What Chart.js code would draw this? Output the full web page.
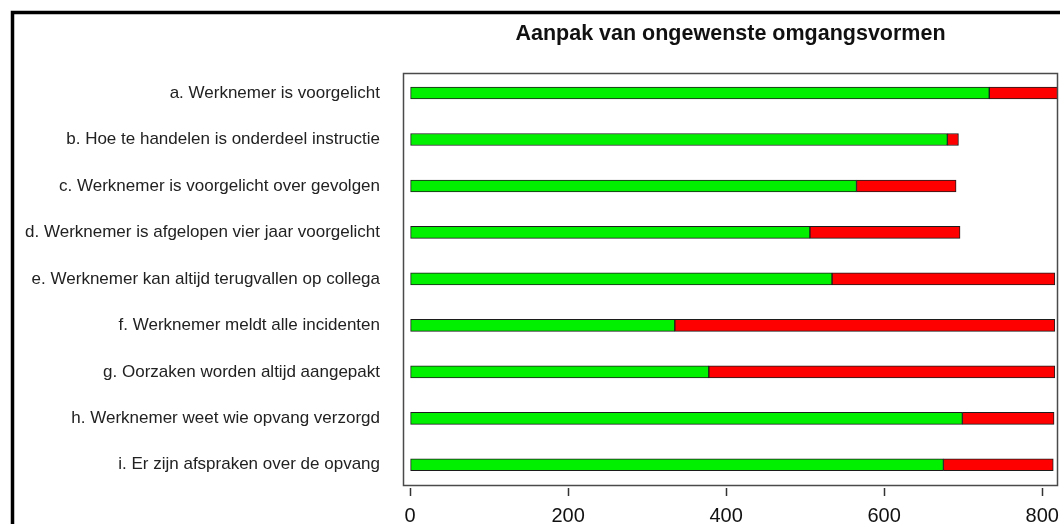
<!DOCTYPE html>
<html>
<head>
<meta charset="utf-8">
<script src="https://cdn.jsdelivr.net/npm/chart.js@4"></script>
<style>
  html, body { margin: 0; padding: 0; background: #ffffff; }
  #wrap { width: 1060px; height: 524px; position: relative; overflow: hidden; }
</style>
</head>
<body>
<div id="wrap"><canvas id="c" width="1060" height="524"></canvas></div>
<script>
const titleText = "Aanpak van ongewenste omgangsvormen";
const categories = [
  "a. Werknemer is voorgelicht",
  "b. Hoe te handelen is onderdeel instructie",
  "c. Werknemer is voorgelicht over gevolgen",
  "d. Werknemer is afgelopen vier jaar voorgelicht",
  "e. Werknemer kan altijd terugvallen op collega",
  "f. Werknemer meldt alle incidenten",
  "g. Oorzaken worden altijd aangepakt",
  "h. Werknemer weet wie opvang verzorgd",
  "i. Er zijn afspraken over de opvang"
];
const greenValues = [733, 680, 565, 506, 534, 335, 378, 699, 675];
const redValues   = [92, 14, 126, 190, 282, 481, 438, 116, 139];
const tickValues  = [0, 200, 400, 600, 800];

const FONT = "'Liberation Sans', Arial, Helvetica, sans-serif";

const framePlugin = {
  id: 'frames',
  afterDatasetsDraw(chart) {
    const ctx = chart.ctx;
    ctx.save();
    ctx.strokeStyle = '#4a4a4a';
    ctx.lineWidth = 1.5;
    ctx.strokeRect(403.5, 73.5, 654, 412);
    ctx.restore();
  },
  afterDraw(chart) {
    const ctx = chart.ctx;
    ctx.save();
    ctx.strokeStyle = '#000000';
    ctx.lineWidth = 3.5;
    ctx.strokeRect(12.5, 12.5, 1200, 700);
    ctx.restore();
  }
};

new Chart(document.getElementById('c'), {
  type: 'bar',
  data: {
    labels: categories,
    datasets: [
      {
        label: 'green',
        data: greenValues,
        backgroundColor: '#00f000',
        borderColor: '#1c1c1c',
        borderWidth: 1,
        borderSkipped: false,
        barThickness: 12
      },
      {
        label: 'red',
        data: redValues,
        backgroundColor: '#ff0000',
        borderColor: '#1c1c1c',
        borderWidth: 1,
        borderSkipped: false,
        barThickness: 12
      }
    ]
  },
  options: {
    indexAxis: 'y',
    responsive: false,
    animation: false,
    layout: { padding: { left: 0, right: 2, top: 0, bottom: 0 } },
    plugins: {
      legend: { display: false },
      tooltip: { enabled: false },
      title: {
        display: true,
        text: titleText,
        fullSize: false,
        color: '#111111',
        font: { family: FONT, size: 21.5, weight: 'bold', lineHeight: 1.2 },
        padding: { top: 21, bottom: 23 }
      }
    },
    scales: {
      x: {
        stacked: true,
        min: -9,
        max: 820,
        afterBuildTicks(scale) {
          scale.ticks = tickValues.map(v => ({ value: v }));
        },
        afterFit(scale) {
          scale.height = 36;
          scale.paddingLeft = 0;
          scale.paddingRight = 0;
        },
        border: { display: false },
        grid: {
          display: true,
          drawOnChartArea: false,
          drawTicks: true,
          tickLength: 8,
          tickWidth: 1.5,
          tickColor: '#333333'
        },
        ticks: {
          autoSkip: false,
          maxRotation: 0,
          padding: 8,
          color: '#111111',
          font: { family: FONT, size: 20 }
        }
      },
      y: {
        stacked: true,
        afterFit(scale) {
          scale.width = 403;
          scale.paddingTop = 0;
          scale.paddingBottom = 0;
        },
        border: { display: false },
        grid: { display: false },
        ticks: {
          padding: 15,
          color: '#222222',
          font: { family: FONT, size: 17 }
        }
      }
    }
  },
  plugins: [framePlugin]
});
</script>
</body>
</html>
